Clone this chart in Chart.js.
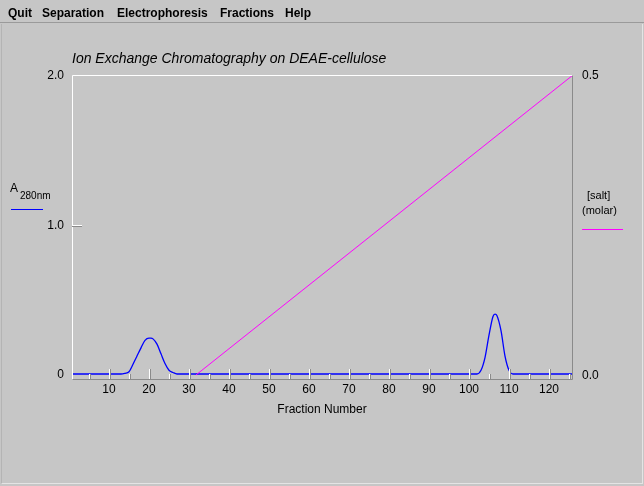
<!DOCTYPE html>
<html>
<head>
<meta charset="utf-8">
<script src="https://cdn.jsdelivr.net/npm/chart.js@4"></script>
<style>
  html, body { margin: 0; padding: 0; background: #c6c6c6; }
  #wrap { position: relative; width: 644px; height: 486px; overflow: hidden; background: #c6c6c6; }
  #panel { position: absolute; left: 1px; top: 24px; width: 640px; height: 459px;
           border-right: 1px solid #e4e4e4; border-bottom: 1px solid #e4e4e4; border-left: 1px solid #b4b4b4; }
  #menu { position: absolute; left: 0; top: 0; width: 644px; height: 22px; border-bottom: 1px solid #9a9a9a;
          font: bold 12px "Liberation Sans", Arial, sans-serif; color: #000; }
  #menu span { position: absolute; top: 6px; }
  canvas { position: absolute; left: 0; top: 0; }
</style>
</head>
<body>
<div id="wrap">
  <div id="panel"></div>
  <canvas id="chromChart" width="644" height="486"></canvas>
  <div id="menu">
    <span style="left:8px">Quit</span>
    <span style="left:42px">Separation</span>
    <span style="left:117px">Electrophoresis</span>
    <span style="left:220px">Fractions</span>
    <span style="left:285px">Help</span>
  </div>
</div>
<script>
// absorbance trace (A280)
const fractions = [1, 13, 14, 15, 16, 17, 18, 19, 20, 20.5, 21, 22, 23, 24, 25, 26, 27,
  102, 103, 104, 105, 106, 106.5, 107, 108, 109, 110, 111, 126];
const absorbance = [0, 0, 0.005, 0.015, 0.065, 0.12, 0.175, 0.225, 0.24, 0.24, 0.235, 0.2, 0.135, 0.07, 0.025, 0.01, 0,
  0, 0.025, 0.11, 0.26, 0.385, 0.4, 0.39, 0.29, 0.12, 0.025, 0, 0];
// salt gradient
const saltFractions = [31.75, 126];
const saltMolar = [0, 0.5];
// tick labels
const xTicks = [10, 20, 30, 40, 50, 60, 70, 80, 90, 100, 110, 120];
const xMinorTicks = [5, 15, 25, 35, 45, 55, 65, 75, 85, 95, 105, 115, 125];
const leftTicks = [0, 1.0, 2.0];
const rightTicks = [0.0, 0.5];

const FONT = '"Liberation Sans", Arial, sans-serif';

const decorPlugin = {
  id: "decor",
  afterDraw(chart) {
    const { ctx, chartArea: a, scales } = chart;
    const x = scales.x, y = scales.y, y2 = scales.y2;
    ctx.save();
    // frame
    ctx.lineWidth = 1;
    ctx.strokeStyle = "#ffffff";
    ctx.beginPath();
    ctx.moveTo(a.left + 0.5, a.bottom + 0.5);
    ctx.lineTo(a.left + 0.5, a.top + 0.5);
    ctx.lineTo(a.right + 0.5, a.top + 0.5);
    ctx.stroke();
    ctx.strokeStyle = "#8a8a8a";
    ctx.beginPath();
    ctx.moveTo(a.right + 0.5, a.top + 0.5);
    ctx.lineTo(a.right + 0.5, a.bottom + 0.5);
    ctx.lineTo(a.left + 0.5, a.bottom + 0.5);
    ctx.stroke();

    // x ticks (inside, from bottom up)
    const tick = (v, len) => {
      const px = Math.round(x.getPixelForValue(v));
      ctx.strokeStyle = "#ffffff";
      ctx.beginPath();
      ctx.moveTo(px + 0.5, a.bottom);
      ctx.lineTo(px + 0.5, a.bottom - len);
      ctx.stroke();
      ctx.strokeStyle = "#8a8a8a";
      ctx.beginPath();
      ctx.moveTo(px + 1.5, a.bottom);
      ctx.lineTo(px + 1.5, a.bottom - len);
      ctx.stroke();
    };
    xMinorTicks.forEach(v => tick(v, 5));
    xTicks.forEach(v => tick(v, 10));

    // left tick at 1.0
    const py1 = Math.round(y.getPixelForValue(1.0));
    ctx.strokeStyle = "#ffffff";
    ctx.beginPath();
    ctx.moveTo(a.left, py1 + 0.5);
    ctx.lineTo(a.left + 10, py1 + 0.5);
    ctx.stroke();
    ctx.strokeStyle = "#8a8a8a";
    ctx.beginPath();
    ctx.moveTo(a.left, py1 + 1.5);
    ctx.lineTo(a.left + 10, py1 + 1.5);
    ctx.stroke();

    ctx.fillStyle = "#000";
    ctx.font = "12px " + FONT;
    ctx.textBaseline = "middle";
    ctx.textAlign = "center";
    xTicks.forEach(v => ctx.fillText(String(v), x.getPixelForValue(v), a.bottom + 11));
    ctx.textAlign = "right";
    leftTicks.forEach(v => ctx.fillText(v === 0 ? "0" : v.toFixed(1), a.left - 8, y.getPixelForValue(v) + 1));
    ctx.textAlign = "left";
    rightTicks.forEach(v => ctx.fillText(v.toFixed(1), a.right + 10, y2.getPixelForValue(v) + 1));

    // axis titles
    ctx.textAlign = "center";
    ctx.fillText("Fraction Number", (a.left + a.right) / 2, a.bottom + 31);
    ctx.textAlign = "left";
    ctx.fillText("A", 10, 189);
    ctx.font = "10px " + FONT;
    ctx.fillText("280nm", 20, 196);
    ctx.font = "11px " + FONT;
    ctx.fillText("[salt]", 587, 196);
    ctx.fillText("(molar)", 582, 211);
    ctx.strokeStyle = "#0000ff";
    ctx.beginPath(); ctx.moveTo(11, 209.5); ctx.lineTo(43, 209.5); ctx.stroke();
    ctx.strokeStyle = "#ff00ff";
    ctx.beginPath(); ctx.moveTo(582, 229.5); ctx.lineTo(623, 229.5); ctx.stroke();

    // title
    ctx.font = "italic 14px " + FONT;
    ctx.textAlign = "left";
    ctx.fillText("Ion Exchange Chromatography on DEAE-cellulose", a.left, 59);
    ctx.restore();
  }
};

const ctx = document.getElementById("chromChart").getContext("2d");
new Chart(ctx, {
  type: "line",
  data: {
    datasets: [
      {
        data: saltFractions.map((f, i) => ({ x: f, y: saltMolar[i] })),
        yAxisID: "y2",
        borderColor: "#ff00ff",
        borderWidth: 1,
        pointRadius: 0,
        tension: 0,
      },
      {
        data: fractions.map((f, i) => ({ x: f, y: absorbance[i] })),
        yAxisID: "y",
        borderColor: "#0000ff",
        borderWidth: 1.3,
        pointRadius: 0,
        cubicInterpolationMode: "monotone",
      },
    ],
  },
  options: {
    responsive: false,
    animation: false,
    events: [],
    layout: { padding: { left: 72, top: 75, right: 72, bottom: 107 } },
    plugins: { legend: { display: false }, title: { display: false }, tooltip: { enabled: false } },
    scales: {
      x: { type: "linear", min: 0.75, max: 125.75, display: false },
      y: { type: "linear", min: -0.0334, max: 2.0, display: false },
      y2: { type: "linear", min: -0.0067, max: 0.5, display: false },
    },
  },
  plugins: [decorPlugin],
});
</script>
</body>
</html>
